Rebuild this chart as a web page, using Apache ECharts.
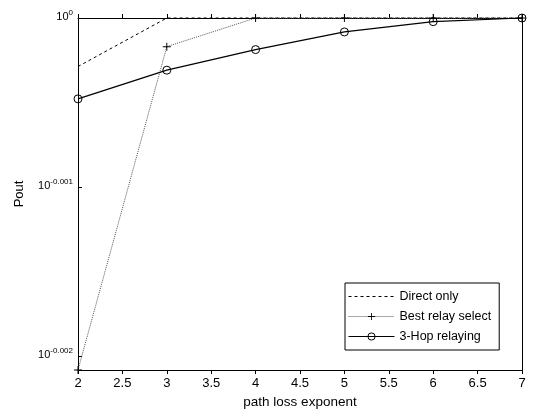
<!DOCTYPE html>
<html>
<head>
<meta charset="utf-8">
<script src="https://cdn.jsdelivr.net/npm/echarts@6/dist/echarts.min.js"></script>
<style>
html,body{margin:0;padding:0;background:#fff;}
#c{width:533px;height:414px;}
</style>
</head>
<body>
<div id="c"></div>
<script>
// Data (Pout values, linear scale)
var pathLossExponent = [2, 3, 4, 5, 6, 7];
var directOnly       = [0.99934, 1, 1, 1, 1, 1];
var bestRelaySelect  = [0.99522, 0.99961, 1, 1, 1, 1];
var threeHopRelaying = [0.99890, 0.99929, 0.99957, 0.99981, 0.99995, 1];
var yTickExponents   = [-0.002, -0.001, 0];

function toLogPairs(vals) {
  return pathLossExponent.map(function (x, i) { return [x, Math.log10(vals[i])]; });
}

var font = '"Liberation Sans", Arial, sans-serif';
function yFmt(v) {
  var e = Math.abs(v) < 1e-9 ? '0' : v.toFixed(3);
  return '{b|10}{s|' + e + '}';
}
var plusPath = 'path://M4.4,0H5.6V4.4H10V5.6H5.6V10H4.4V5.6H0V4.4H4.4Z';

var chart = echarts.init(document.getElementById('c'));
var axisLine = { show: true, lineStyle: { color: '#000', width: 1 } };
var tick = { show: true, inside: true, length: 4, lineStyle: { color: '#000' } };

chart.setOption({
  backgroundColor: '#fff',
  animation: false,
  grid: { left: 78, right: 11, top: 18, bottom: 41, show: false },
  legend: {
    orient: 'vertical',
    left: 345, top: 283,
    backgroundColor: '#fff',
    borderColor: '#000', borderWidth: 1,
    padding: [7, 8, 7, 3],
    itemGap: 7,
    itemWidth: 46, itemHeight: 9,
    lineStyle: { width: 1 },
    itemStyle: { borderWidth: 1 },
    textStyle: { fontFamily: font, fontSize: 12.5, color: '#000' },
    data: [
      { name: 'Direct only', itemStyle: { opacity: 0 } },
      'Best relay select',
      '3-Hop relaying'
    ]
  },
  xAxis: [{
    type: 'value', min: 2, max: 7, interval: 0.5,
    name: 'path loss exponent', nameLocation: 'middle', nameGap: 25,
    nameTextStyle: { fontFamily: font, fontSize: 13.5, color: '#000' },
    axisLine: axisLine, axisTick: tick, splitLine: { show: false },
    axisLabel: { fontFamily: font, fontSize: 13, color: '#000', margin: 7,
      formatter: function (v) { return String(v); } }
  }, {
    type: 'value', min: 2, max: 7, interval: 0.5, position: 'top',
    axisLine: axisLine, axisTick: tick, splitLine: { show: false },
    axisLabel: { show: false }
  }],
  yAxis: [{
    type: 'value', min: 'dataMin', max: 0,
    name: 'Pout', nameLocation: 'middle', nameGap: 52, nameRotate: 90,
    nameTextStyle: { fontFamily: font, fontSize: 13, color: '#000' },
    axisLine: axisLine, splitLine: { show: false },
    axisTick: { show: true, inside: true, length: 4, lineStyle: { color: '#000' }, customValues: yTickExponents },
    axisLabel: {
      customValues: yTickExponents, margin: 5,
      formatter: yFmt,
      rich: {
        b: { fontFamily: font, fontSize: 11, color: '#000', padding: [0, 0, 2, 0] },
        s: { fontFamily: font, fontSize: 8, color: '#000', padding: [0, 0, 11, 0] }
      }
    }
  }, {
    type: 'value', min: 'dataMin', max: 0, position: 'right',
    axisLine: axisLine, splitLine: { show: false },
    axisTick: { show: true, inside: true, length: 4, lineStyle: { color: '#000' }, customValues: yTickExponents },
    axisLabel: { show: false }
  }],
  series: [{
    name: 'Direct only', type: 'line', data: toLogPairs(directOnly),
    symbol: 'none', clip: false,
    lineStyle: { color: '#000', width: 1, type: [3, 3] },
    itemStyle: { color: '#000' }, z: 3
  }, {
    name: 'Best relay select', type: 'line', data: toLogPairs(bestRelaySelect),
    symbol: plusPath, symbolSize: 8, clip: false,
    lineStyle: { color: '#555', width: 1, type: [1, 1] },
    itemStyle: { color: '#000' }, z: 4
  }, {
    name: '3-Hop relaying', type: 'line', data: toLogPairs(threeHopRelaying),
    symbol: 'circle', symbolSize: 8, clip: false,
    lineStyle: { color: '#000', width: 1.2 },
    itemStyle: { color: 'rgba(255,255,255,0)', borderColor: '#000', borderWidth: 1 }, z: 5
  }]
});
</script>
</body>
</html>
